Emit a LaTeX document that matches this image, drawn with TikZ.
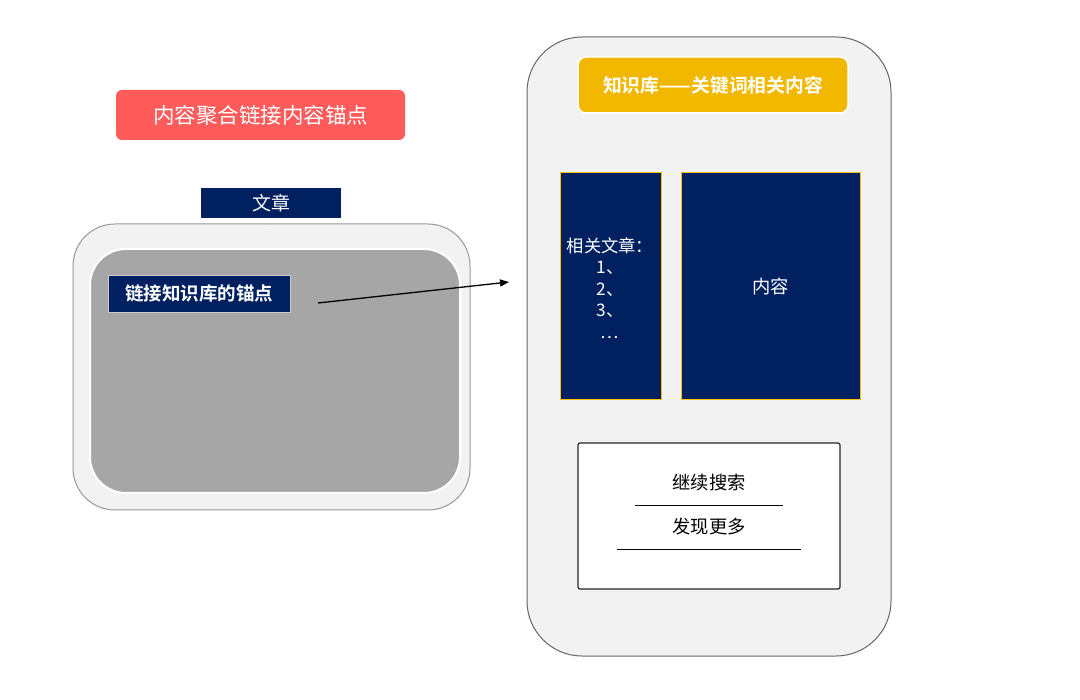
\documentclass[tikz,border=0pt]{standalone}
\usepackage{fontspec}
\setmainfont{Noto Sans CJK SC}
\newfontfamily\cjkb[BoldFont={* Bold}]{Noto Sans CJK SC}
\usetikzlibrary{arrows.meta}
\definecolor{navy}{HTML}{002060}
\definecolor{redbox}{HTML}{FF5B5B}
\definecolor{gold}{HTML}{F2B800}
\definecolor{goldline}{HTML}{FFC000}
\definecolor{lightbg}{HTML}{F2F2F2}
\definecolor{midgray}{HTML}{A6A6A6}
\tikzset{
  navybox/.style={fill=navy, text=white, inner sep=0pt},
  colbox/.style={fill=navy, draw=goldline, line width=1pt, text=white, inner sep=0pt},
  t19/.style={font=\fontsize{19}{22}\selectfont},
  t18/.style={font=\fontsize{18.3}{22}\selectfont},
}
\begin{document}
\begin{tikzpicture}[x=1pt,y=-1pt]
\useasboundingbox[fill=white] (0,0) rectangle (1080,700);
% title red
\node[fill=redbox, rounded corners=6pt, minimum width=289pt, minimum height=50pt, text=white, font=\fontsize{21.5}{24}\selectfont] (title) at (260.5,115) {内容聚合链接内容锚点};
% 文章
\node[navybox, minimum width=140pt, minimum height=30pt, t19] (wz) at (271,203) {文章};
% outer left
\draw[fill=lightbg, draw=gray!80, line width=1pt, rounded corners=42pt] (73,224) rectangle (470,510);
\node[text=white, font=\fontsize{12}{12}\selectfont] (dots) at (271,228) {$\cdots$};
\draw[fill=midgray, draw=white, line width=2pt, rounded corners=36pt] (90,249) rectangle (460,493);
% link box
\node[navybox, draw=gray!40, line width=0.8pt, minimum width=182pt, minimum height=37pt, font=\cjkb\bfseries\fontsize{18.5}{20}\selectfont] (link) at (199,293.5) {链接知识库的锚点};
\coordinate (a1) at (318,303);
\coordinate (a2) at (509,282);
\draw[line width=1.3pt, -{Triangle[length=9pt,width=7pt]}] (a1) -- (a2);
% phone
\draw[fill=lightbg, draw=gray!120, line width=1pt, rounded corners=55pt] (527,37) rectangle (891,656);
\node[fill=gold, draw=white, line width=1.5pt, rounded corners=8pt, minimum width=270pt, minimum height=56pt, text=white, font=\cjkb\bfseries\fontsize{18.8}{20}\selectfont] (kb) at (713,85) {知识库——关键词相关内容};
% columns
\node[colbox, minimum width=101pt, minimum height=227pt] (col) at (610.5,286.5) {};
\node[text=white, font=\fontsize{17.3}{22}\selectfont, align=center] (collist) at (610,288) {相关文章：\\[-0.5pt]1、\\[-0.5pt]2、\\[-0.5pt]3、\\[-0.5pt]…};
\node[colbox, minimum width=179pt, minimum height=227pt, t18] (content) at (770.5,286.5) {内容};
% bottom box
\node[fill=white, draw=black!85, line width=1.2pt, rounded corners=2pt, minimum width=262pt, minimum height=146pt] (more) at (709,516) {};
\node[t18] (s1) at (709,483) {继续搜索};
\node[t18] (s2) at (709,527) {发现更多};
\coordinate (l1a) at (635,506); \coordinate (l1b) at (783,506);
\coordinate (l2a) at (617,550); \coordinate (l2b) at (801,550);
\draw[line width=1pt] (l1a) -- (l1b);
\draw[line width=1pt] (l2a) -- (l2b);
\end{tikzpicture}
\end{document}
